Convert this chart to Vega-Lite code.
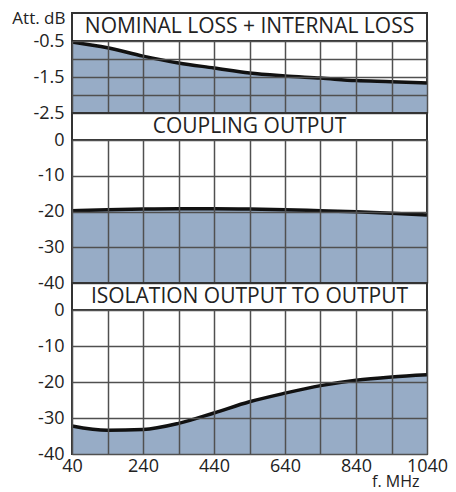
{
  "$schema": "https://vega.github.io/schema/vega-lite/v6.json",
  "padding": {"left": 10, "top": 8, "right": 5, "bottom": 5},
  "background": "white",
  "spacing": 0,
  "bounds": "flush",
  "config": {
    "font": "Open Sans",
    "view": {"stroke": "#333333", "strokeWidth": 2},
    "axis": {
      "labelFont": "Open Sans", "labelFontSize": 18, "labelColor": "#222222",
      "titleFont": "Open Sans", "titleFontSize": 17, "titleFontWeight": "normal", "titleColor": "#222222",
      "gridColor": "#505050", "gridWidth": 1.5, "gridOpacity": 1,
      "domain": false, "ticks": false, "zindex": 1
    }
  },
  "datasets": {
    "loss": [
      {"f": 40, "dB": -0.53}, {"f": 140, "dB": -0.69}, {"f": 240, "dB": -0.92}, {"f": 340, "dB": -1.11},
      {"f": 440, "dB": -1.25}, {"f": 540, "dB": -1.39}, {"f": 640, "dB": -1.47}, {"f": 740, "dB": -1.53},
      {"f": 840, "dB": -1.6}, {"f": 940, "dB": -1.63}, {"f": 1040, "dB": -1.67}
    ],
    "coupling": [
      {"f": 40, "dB": -19.8}, {"f": 140, "dB": -19.5}, {"f": 240, "dB": -19.3}, {"f": 340, "dB": -19.2},
      {"f": 440, "dB": -19.2}, {"f": 540, "dB": -19.3}, {"f": 640, "dB": -19.5}, {"f": 740, "dB": -19.8},
      {"f": 840, "dB": -20.1}, {"f": 940, "dB": -20.5}, {"f": 1040, "dB": -21.0}
    ],
    "isolation": [
      {"f": 40, "dB": -32.2}, {"f": 140, "dB": -33.4}, {"f": 240, "dB": -33.2}, {"f": 340, "dB": -31.5},
      {"f": 440, "dB": -28.6}, {"f": 540, "dB": -25.5}, {"f": 640, "dB": -23.1}, {"f": 740, "dB": -21.0},
      {"f": 840, "dB": -19.5}, {"f": 940, "dB": -18.6}, {"f": 1040, "dB": -18.0}
    ],
    "titles": [
      {"panel": 1, "t": "NOMINAL LOSS + INTERNAL LOSS"},
      {"panel": 2, "t": "COUPLING OUTPUT"},
      {"panel": 3, "t": "ISOLATION OUTPUT TO OUTPUT"}
    ]
  },
  "vconcat": [
    {
      "width": 355, "height": 28,
      "data": {"name": "titles"},
      "transform": [{"filter": "datum.panel == 1"}],
      "mark": {"type": "text", "font": "Open Sans", "fontSize": 21, "color": "#222222"},
      "encoding": {
        "text": {"field": "t"},
        "y": {"datum": 0, "scale": {"domain": [-1, 1]},
          "axis": {"title": "Att. dB", "titleAngle": 0, "titleAlign": "right", "titleBaseline": "middle",
            "titleX": -7, "titleY": 5, "titleFontSize": 17, "labels": false, "grid": false}}
      }
    },
    {
      "width": 355, "height": 72,
      "data": {"name": "loss"},
      "encoding": {
        "x": {"field": "f", "type": "quantitative", "scale": {"domain": [40, 1040], "nice": false},
          "axis": {"values": [40, 140, 240, 340, 440, 540, 640, 740, 840, 940, 1040], "labels": false, "title": null, "zindex": 1}},
        "y": {"field": "dB", "type": "quantitative", "scale": {"domain": [-2.5, -0.5], "nice": false, "zero": false},
          "axis": {"values": [-0.5, -1, -1.5, -2, -2.5], "title": null, "labelPadding": 8, "zindex": 1,
            "labelExpr": "datum.value == -1 || datum.value == -2 ? '' : '-' + format(-datum.value, '.1f')"}}
      },
      "layer": [
        {"mark": {"type": "area", "interpolate": "monotone", "color": "#97acc6", "opacity": 1}, "encoding": {"y2": {"datum": -2.5}}},
        {"mark": {"type": "line", "interpolate": "monotone", "color": "#111111", "strokeWidth": 3.5}}
      ]
    },
    {
      "width": 355, "height": 27,
      "data": {"name": "titles"},
      "transform": [{"filter": "datum.panel == 2"}],
      "mark": {"type": "text", "font": "Open Sans", "fontSize": 21, "color": "#222222"},
      "encoding": {"text": {"field": "t"}, "y": {"datum": 0, "scale": {"domain": [-1, 1]}, "axis": null}}
    },
    {
      "width": 355, "height": 143,
      "data": {"name": "coupling"},
      "encoding": {
        "x": {"field": "f", "type": "quantitative", "scale": {"domain": [40, 1040], "nice": false},
          "axis": {"values": [40, 140, 240, 340, 440, 540, 640, 740, 840, 940, 1040], "labels": false, "title": null, "zindex": 1}},
        "y": {"field": "dB", "type": "quantitative", "scale": {"domain": [-40, 0], "nice": false},
          "axis": {"values": [0, -10, -20, -30, -40], "title": null, "labelPadding": 8, "zindex": 1,
            "labelExpr": "datum.value == 0 ? '0' : '-' + format(-datum.value, 'd')"}}
      },
      "layer": [
        {"mark": {"type": "area", "interpolate": "monotone", "color": "#97acc6", "opacity": 1}, "encoding": {"y2": {"datum": -40}}},
        {"mark": {"type": "line", "interpolate": "monotone", "color": "#111111", "strokeWidth": 3.5}}
      ]
    },
    {
      "width": 355, "height": 27,
      "data": {"name": "titles"},
      "transform": [{"filter": "datum.panel == 3"}],
      "mark": {"type": "text", "font": "Open Sans", "fontSize": 21, "color": "#222222"},
      "encoding": {"text": {"field": "t"}, "y": {"datum": 0, "scale": {"domain": [-1, 1]}, "axis": null}}
    },
    {
      "width": 355, "height": 144,
      "data": {"name": "isolation"},
      "encoding": {
        "x": {"field": "f", "type": "quantitative", "scale": {"domain": [40, 1040], "nice": false},
          "axis": {"values": [40, 140, 240, 340, 440, 540, 640, 740, 840, 940, 1040], "labelFlush": false, "zindex": 1,
            "labelPadding": 3, "labelExpr": "(datum.value - 40) % 200 == 0 ? '' + datum.value : ''",
            "title": "f. MHz", "titleFontSize": 16, "titleAlign": "right", "titleX": 347, "titleY": 27, "titleBaseline": "middle"}},
        "y": {"field": "dB", "type": "quantitative", "scale": {"domain": [-40, 0], "nice": false},
          "axis": {"values": [0, -10, -20, -30, -40], "title": null, "labelPadding": 8, "zindex": 1,
            "labelExpr": "datum.value == 0 ? '0' : '-' + format(-datum.value, 'd')"}}
      },
      "layer": [
        {"mark": {"type": "area", "interpolate": "monotone", "color": "#97acc6", "opacity": 1}, "encoding": {"y2": {"datum": -40}}},
        {"mark": {"type": "line", "interpolate": "monotone", "color": "#111111", "strokeWidth": 3.5}}
      ]
    }
  ]
}
